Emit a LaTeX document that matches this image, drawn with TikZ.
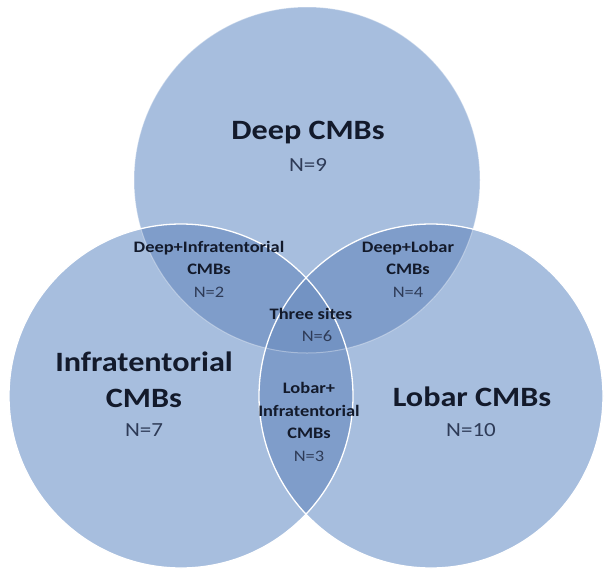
\documentclass[tikz,border=0pt]{standalone}
\usepackage{fontspec}
\setmainfont{Carlito}[FakeStretch=1.15]
\definecolor{base}{HTML}{A7BEDE}
\definecolor{pair}{HTML}{7F9DCA}
\definecolor{trip}{HTML}{7393C3}
\definecolor{txt}{HTML}{131A2B}
\definecolor{ntxt}{HTML}{2E3B57}
\tikzset{
  bigtitle/.style={font=\fontsize{28}{36}\selectfont\bfseries, text=txt, align=center, inner sep=0pt},
  bign/.style={font=\fontsize{20}{24}\selectfont, text=ntxt, inner sep=0pt},
  smalllbl/.style={font=\fontsize{16}{22.5}\selectfont\bfseries, text=txt, align=center, inner sep=0pt},
  outline/.style={draw=white, line width=1.3pt}
}
\newcommand{\nlab}[1]{{\mdseries\color{ntxt}#1}}
\begin{document}
\begin{tikzpicture}[x=1pt,y=-1pt]
\useasboundingbox (0,0) rectangle (604,571);
\coordinate (T) at (307,180);
\coordinate (L) at (181,396);
\coordinate (R) at (431,396);
% base circles
\fill[base] (T) circle[radius=173];
\fill[base] (L) circle[radius=172];
\fill[base] (R) circle[radius=172];
% pairwise overlaps
\begin{scope}
  \clip (T) circle[radius=173];
  \fill[pair] (L) circle[radius=172];
  \fill[pair] (R) circle[radius=172];
\end{scope}
\begin{scope}
  \clip (L) circle[radius=172];
  \fill[pair] (R) circle[radius=172];
\end{scope}
% triple overlap
\begin{scope}
  \clip (T) circle[radius=173];
  \clip (L) circle[radius=172];
  \fill[trip] (R) circle[radius=172];
\end{scope}
% outlines
\draw[draw=white, draw opacity=0.35, line width=1pt] (T) circle[radius=173];
\draw[outline] (L) circle[radius=172];
\draw[outline] (R) circle[radius=172];
% labels
\node[bigtitle] (deep) at (308,133) {Deep CMBs};
\node[bign] (n9) at (308,165) {N=9};
\node[smalllbl] (di) at (209,269) {Deep+Infratentorial\\CMBs\\\nlab{N=2}};
\node[smalllbl] (dl) at (408,269) {Deep+Lobar\\CMBs\\\nlab{N=4}};
\node[smalllbl] (three) at (311,325) {Three sites\\\nlab{\hspace*{12pt}N=6}};
\node[smalllbl] (li) at (309,422) {Lobar+\\Infratentorial\\CMBs\\\nlab{N=3}};
\node[bigtitle] (inf) at (144,380) {Infratentorial\\CMBs};
\node[bign] (n7) at (144,430) {N=7};
\node[bigtitle] (lob) at (472,397) {Lobar CMBs};
\node[bign] (n10) at (471,430) {N=10};
\end{tikzpicture}
\end{document}
